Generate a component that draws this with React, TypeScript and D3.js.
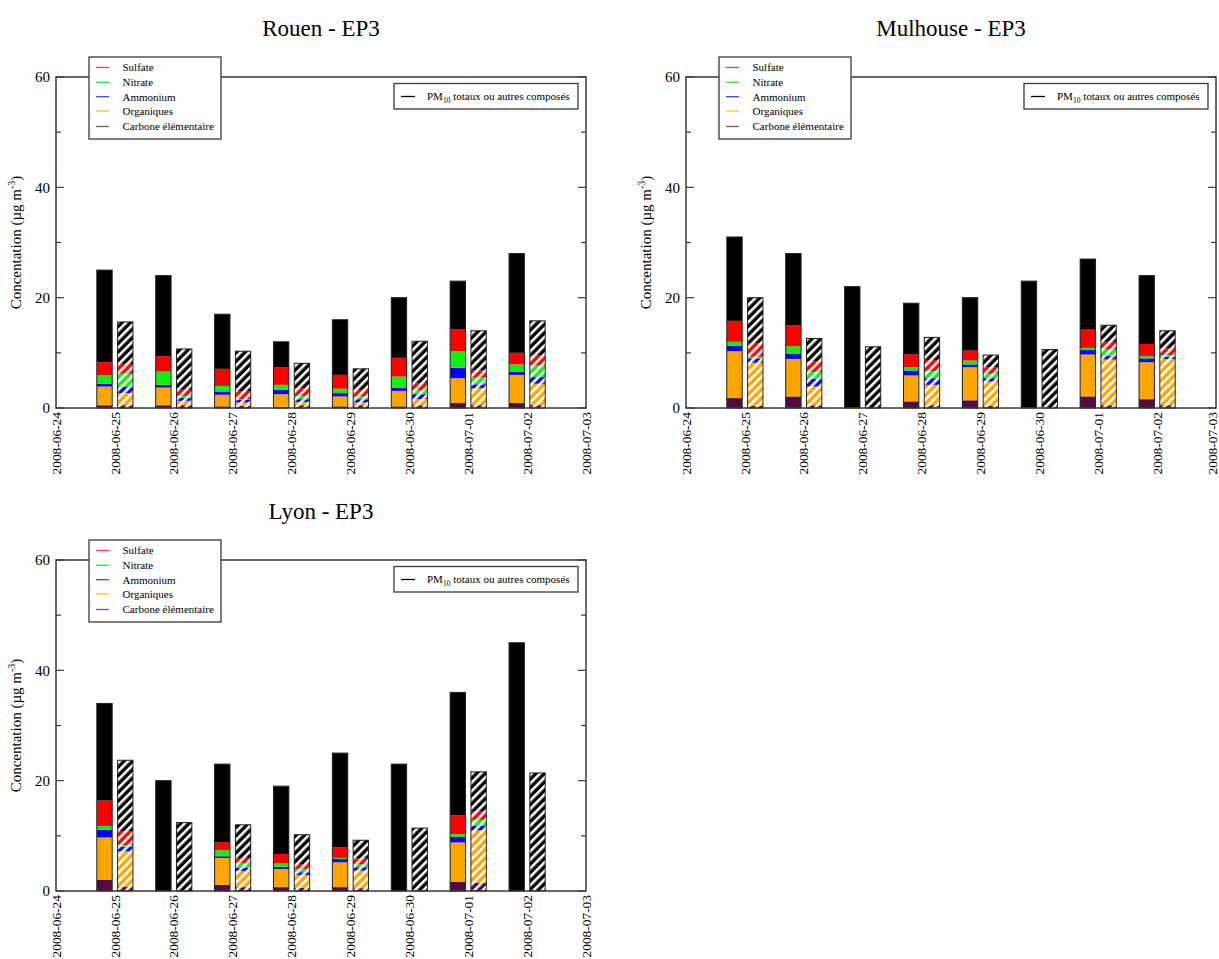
import React from "react";
import * as d3 from "d3";

// ---------- categories / ticks ----------
const axisDates = [
  "2008-06-24", "2008-06-25", "2008-06-26", "2008-06-27", "2008-06-28",
  "2008-06-29", "2008-06-30", "2008-07-01", "2008-07-02", "2008-07-03",
];
const barDates = [
  "2008-06-25", "2008-06-26", "2008-06-27", "2008-06-28",
  "2008-06-29", "2008-06-30", "2008-07-01", "2008-07-02",
];
const yMajorTicks = [0, 20, 40, 60];
const yMinorTicks = [10, 30, 50];
const componentKeys = ["ec", "om", "nh4", "no3", "so4", "other"];
const legendLabels = ["Sulfate", "Nitrate", "Ammonium", "Organiques", "Carbone élémentaire"];
const legendKeys = ["so4", "no3", "nh4", "om", "ec"];

// ---------- Rouen (solid = observed, hatched = modelled) ----------
const rouenObsTotal = [25, 24, 17, 12, 16, 20, 23, 28];
const rouenObsEC = [0.5, 0.5, 0.3, 0.2, 0.3, 0.3, 0.9, 0.9];
const rouenObsOM = [3.4, 3.2, 2.1, 2.3, 1.8, 2.8, 4.5, 5.1];
const rouenObsNH4 = [0.5, 0.5, 0.6, 0.8, 0.6, 0.6, 1.9, 0.6];
const rouenObsNO3 = [1.5, 2.4, 1.0, 0.9, 0.8, 2.0, 3.0, 1.3];
const rouenObsSO4 = [2.4, 2.8, 3.1, 3.2, 2.5, 3.4, 4.0, 2.1];

const rouenModTotal = [15.6, 10.7, 10.3, 8.1, 7.1, 12.1, 14.0, 15.8];
const rouenModEC = [0.5, 0.5, 0.4, 0.5, 0.5, 0.5, 0.5, 0.5];
const rouenModOM = [2.2, 0.8, 0.6, 0.6, 0.5, 1.1, 3.1, 3.9];
const rouenModNH4 = [1.1, 0.5, 0.5, 0.5, 0.6, 0.9, 0.7, 1.2];
const rouenModNO3 = [2.4, 0.4, 0.1, 0.6, 0.5, 0.7, 1.2, 2.1];
const rouenModSO4 = [1.8, 1.1, 1.4, 1.4, 1.2, 1.3, 1.3, 1.9];

// ---------- Mulhouse ----------
const mulhouseObsTotal = [31, 28, 22, 19, 20, 23, 27, 24];
const mulhouseObsEC = [1.8, 2.1, null, 1.2, 1.4, null, 2.1, 1.6];
const mulhouseObsOM = [8.5, 6.8, null, 4.7, 6.0, null, 7.6, 6.7];
const mulhouseObsNH4 = [1.0, 0.9, null, 0.9, 0.5, null, 0.8, 0.7];
const mulhouseObsNO3 = [0.7, 1.4, null, 0.6, 0.7, null, 0.4, 0.4];
const mulhouseObsSO4 = [3.8, 3.8, null, 2.3, 1.8, null, 3.3, 2.2];

const mulhouseModTotal = [20, 12.6, 11.1, 12.8, 9.6, 10.6, 15.0, 14.0];
const mulhouseModEC = [0.4, 0.5, null, 0.5, 0.4, null, 0.5, 0.5];
const mulhouseModOM = [7.8, 3.4, null, 3.7, 4.4, null, 8.3, 8.4];
const mulhouseModNH4 = [0.8, 1.4, null, 1.2, 0.6, null, 0.7, 0.4];
const mulhouseModNO3 = [0.3, 1.2, null, 1.3, 0.8, null, 1.1, 0.3];
const mulhouseModSO4 = [2.5, 2.0, null, 2.0, 1.2, null, 1.4, 1.2];

// ---------- Lyon ----------
const lyonObsTotal = [34, 20, 23, 19, 25, 23, 36, 45];
const lyonObsEC = [2.0, null, 1.1, 0.7, 0.7, null, 1.7, null];
const lyonObsOM = [7.7, null, 4.9, 3.3, 4.5, null, 7.1, null];
const lyonObsNH4 = [1.4, null, 0.3, 0.4, 0.6, null, 1.0, null];
const lyonObsNO3 = [0.7, null, 1.1, 0.6, 0.2, null, 0.5, null];
const lyonObsSO4 = [4.6, null, 1.4, 1.7, 1.9, null, 3.4, null];

const lyonModTotal = [23.7, 12.4, 12.0, 10.2, 9.2, 11.4, 21.6, 21.4];
const lyonModEC = [0.8, null, 0.7, 0.6, 0.5, null, 1.5, null];
const lyonModOM = [6.4, null, 2.9, 2.3, 3.2, null, 9.5, null];
const lyonModNH4 = [0.8, null, 0.6, 0.5, 0.6, null, 0.8, null];
const lyonModNO3 = [0.3, null, 0.8, 0.6, 0.5, null, 1.1, null];
const lyonModSO4 = [2.5, null, 1.0, 0.9, 1.1, null, 1.5, null];

// ---------- styles ----------
const FONT = "'Liberation Serif', 'Times New Roman', serif";
const FRAME = "#3a3a3a";
const PAGE_W = 1219;
const fillColors: Record<string, string> = {
  ec: "#520c41",
  om: "#ffa500",
  nh4: "#0000ff",
  no3: "#11ee11",
  so4: "#ff0000",
  other: "#000000",
};
const legendLineColors: Record<string, string> = {
  so4: "#f04040",
  no3: "#30e030",
  nh4: "#4040f0",
  om: "#e8c820",
  ec: "#8a4a80",
};

const PW = 530;
const PH = 331;

type Series = {
  total: number[];
  ec: (number | null)[];
  om: (number | null)[];
  nh4: (number | null)[];
  no3: (number | null)[];
  so4: (number | null)[];
};

function buildRows(s: Series) {
  return barDates.map((d, i) => {
    const ec = s.ec[i] ?? 0;
    const om = s.om[i] ?? 0;
    const nh4 = s.nh4[i] ?? 0;
    const no3 = s.no3[i] ?? 0;
    const so4 = s.so4[i] ?? 0;
    const other = Math.max(0, s.total[i] - (ec + om + nh4 + no3 + so4));
    return { date: d, ec, om, nh4, no3, so4, other };
  });
}

const parse = d3.timeParse("%Y-%m-%d");

function Panel({ title, ox, oy, obs, mod }: { title: string; ox: number; oy: number; obs: Series; mod: Series }) {
  const x = d3.scaleTime().domain([parse(axisDates[0])!, parse(axisDates[axisDates.length - 1])!]).range([0, PW]);
  const y = d3.scaleLinear().domain([0, 60]).range([PH, 0]);
  const dayW = x(parse(axisDates[1])!) - x(parse(axisDates[0])!);
  const inner = d3.scaleBand<string>().domain(["obs", "mod"]).range([-dayW * 0.307, dayW * 0.307]).paddingInner(0.26);
  const stack = d3.stack<any>().keys(componentKeys);
  const sets = [
    { kind: "obs", layers: stack(buildRows(obs)), hatched: false },
    { kind: "mod", layers: stack(buildRows(mod)), hatched: true },
  ];
  const bw = inner.bandwidth();

  return (
    <g transform={`translate(${ox},${oy})`}>
      <text x={PW / 2} y={-41} textAnchor="middle" fontFamily={FONT} fontSize={23}>{title}</text>
      {/* bars */}
      {sets.map((set) => (
        <g key={set.kind}>
          {set.layers.map((layer) => (
            <g key={layer.key}>
              {layer.map((seg, i) => {
                const h = y(seg[0]) - y(seg[1]);
                if (h <= 0) return null;
                const bx = x(parse(barDates[i])!) + (inner(set.kind) as number);
                return (
                  <rect
                    key={i}
                    x={bx}
                    y={y(seg[1])}
                    width={bw}
                    height={h}
                    fill={set.hatched ? `url(#hatch-${layer.key})` : fillColors[layer.key]}
                  />
                );
              })}
            </g>
          ))}
          {barDates.map((d, i) => {
            const top = set.kind === "obs" ? obs.total[i] : mod.total[i];
            const bx = x(parse(d)!) + (inner(set.kind) as number);
            return (
              <rect key={"o" + i} x={bx} y={y(top)} width={bw} height={y(0) - y(top)} fill="none" stroke="#222" strokeWidth={1} />
            );
          })}
        </g>
      ))}
      {/* frame */}
      <rect x={0} y={0} width={PW} height={PH} fill="none" stroke={FRAME} strokeWidth={1.5} />
      {/* y ticks */}
      {yMajorTicks.map((t) => (
        <g key={"M" + t}>
          <line x1={0} x2={8} y1={y(t)} y2={y(t)} stroke={FRAME} strokeWidth={1.2} />
          <line x1={PW} x2={PW - 8} y1={y(t)} y2={y(t)} stroke={FRAME} strokeWidth={1.2} />
          <text x={-6} y={y(t)} dy="0.35em" textAnchor="end" fontFamily={FONT} fontSize={15}>{t}</text>
        </g>
      ))}
      {yMinorTicks.map((t) => (
        <g key={"m" + t}>
          <line x1={0} x2={5} y1={y(t)} y2={y(t)} stroke={FRAME} strokeWidth={1.2} />
          <line x1={PW} x2={PW - 5} y1={y(t)} y2={y(t)} stroke={FRAME} strokeWidth={1.2} />
        </g>
      ))}
      {/* x tick labels */}
      {axisDates.map((d) => {
        const lx = Math.min(x(parse(d)!), PAGE_W - 7 - ox);
        return (
          <text
            key={d}
            transform={`translate(${lx},${PH + 4}) rotate(-90)`}
            dy="0.35em"
            textAnchor="end"
            fontFamily={FONT}
            fontSize={13.4}
          >
            {d}
          </text>
        );
      })}
      {/* y-axis label */}
      <text transform={`translate(-35,${PH / 2}) rotate(-90)`} textAnchor="middle" fontFamily={FONT} fontSize={15}>
        Concentation (µg m
        <tspan dy={-6} fontSize={10}>-3</tspan>
        <tspan dy={6}>)</tspan>
      </text>
      {/* component legend */}
      <g>
        <rect x={33} y={-20} width={132} height={82} fill="white" stroke={FRAME} strokeWidth={1.3} />
        {legendKeys.map((k, i) => {
          const ly = [-9.5, 5.3, 19.7, 34, 49.5][i];
          return (
            <g key={k}>
              <line x1={40} x2={53} y1={ly} y2={ly} stroke={legendLineColors[k]} strokeWidth={1.3} />
              <text x={66.5} y={ly} dy="0.35em" fontFamily={FONT} fontSize={11}>{legendLabels[i]}</text>
            </g>
          );
        })}
      </g>
      {/* PM10 legend */}
      <g>
        <rect x={338} y={6.5} width={184} height={25.5} fill="white" stroke={FRAME} strokeWidth={1.3} />
        <line x1={345} x2={359} y1={19.5} y2={19.5} stroke="#000" strokeWidth={1.3} />
        <text x={371} y={19.5} dy="0.35em" fontFamily={FONT} fontSize={11}>
          PM
          <tspan dy={3} fontSize={7.5}>10</tspan>
          <tspan dy={-3}> totaux ou autres composés</tspan>
        </text>
      </g>
    </g>
  );
}

export default function App() {
  const rouenObs: Series = { total: rouenObsTotal, ec: rouenObsEC, om: rouenObsOM, nh4: rouenObsNH4, no3: rouenObsNO3, so4: rouenObsSO4 };
  const rouenMod: Series = { total: rouenModTotal, ec: rouenModEC, om: rouenModOM, nh4: rouenModNH4, no3: rouenModNO3, so4: rouenModSO4 };
  const mulObs: Series = { total: mulhouseObsTotal, ec: mulhouseObsEC, om: mulhouseObsOM, nh4: mulhouseObsNH4, no3: mulhouseObsNO3, so4: mulhouseObsSO4 };
  const mulMod: Series = { total: mulhouseModTotal, ec: mulhouseModEC, om: mulhouseModOM, nh4: mulhouseModNH4, no3: mulhouseModNO3, so4: mulhouseModSO4 };
  const lyonObs: Series = { total: lyonObsTotal, ec: lyonObsEC, om: lyonObsOM, nh4: lyonObsNH4, no3: lyonObsNO3, so4: lyonObsSO4 };
  const lyonMod: Series = { total: lyonModTotal, ec: lyonModEC, om: lyonModOM, nh4: lyonModNH4, no3: lyonModNO3, so4: lyonModSO4 };

  return (
    <div style={{ position: "absolute", left: 0, top: 0, width: 1219, height: 959, background: "white" }}>
      <svg width={1219} height={959} style={{ display: "block" }}>
        <defs>
          {componentKeys.map((k) => (
            <pattern
              key={k}
              id={`hatch-${k}`}
              patternUnits="userSpaceOnUse"
              width={6}
              height={6}
              patternTransform="rotate(45)"
            >
              <rect width={6} height={6} fill={fillColors[k]} />
              <rect x={0} y={0} width={2.6} height={6} fill="white" />
            </pattern>
          ))}
        </defs>
        <rect width={1219} height={959} fill="white" />
        <Panel title="Rouen - EP3" ox={56} oy={77} obs={rouenObs} mod={rouenMod} />
        <Panel title="Mulhouse - EP3" ox={686} oy={77} obs={mulObs} mod={mulMod} />
        <Panel title="Lyon - EP3" ox={56} oy={560} obs={lyonObs} mod={lyonMod} />
      </svg>
    </div>
  );
}
